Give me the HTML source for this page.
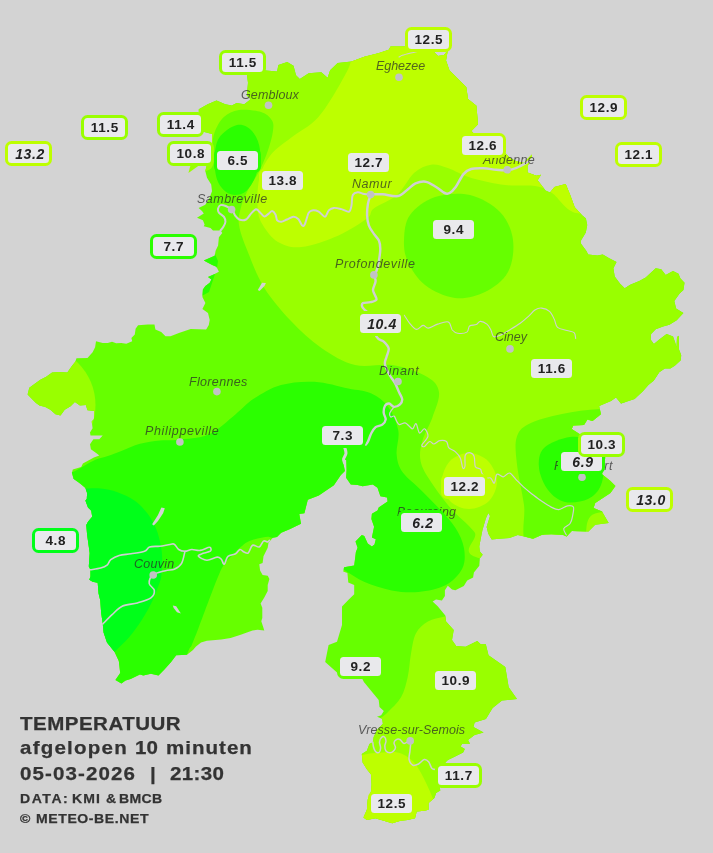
<!DOCTYPE html>
<html><head><meta charset="utf-8"><title>Temperatuur</title>
<style>
html,body{margin:0;padding:0;background:#d3d3d3;}
body{width:713px;height:853px;overflow:hidden;position:relative;font-family:"Liberation Sans",sans-serif;}
svg{position:absolute;left:0;top:0;}
.lb{position:absolute;width:41px;height:18.6px;border:3.2px solid #99ff00;border-radius:6.5px;background:#e9e9ec;color:#222;font-weight:bold;font-size:13.5px;line-height:19.8px;text-align:center;letter-spacing:0.6px;text-indent:0.6px;}
.lb.i{font-style:italic;font-size:14px;text-indent:3px;line-height:20.6px;}
.ct{position:absolute;font-style:italic;font-size:12.5px;color:rgba(40,40,40,0.72);white-space:nowrap;line-height:14px;}
.lb,.ct,.t{will-change:transform;}
.t{position:absolute;color:#333;font-weight:bold;white-space:nowrap;transform-origin:left top;transform:scaleX(1.08);-webkit-text-stroke:0.25px #333;}
</style></head><body>

<svg width="713" height="853" viewBox="0 0 713 853">
<defs><clipPath id="pc"><path d="M206.3 329.2 L208.8 325.0 L209.7 319.9 L208.0 313.1 L202.4 308.9 L205.4 303.0 L202.4 297.1 L202.9 289.5 L205.4 286.1 L209.7 282.8 L211.4 279.4 L208.0 276.9 L214.2 274.3 L218.9 271.8 L216.4 266.7 L212.2 265.0 L203.8 260.5 L214.7 255.8 L215.6 250.7 L218.1 245.6 L218.9 237.2 L222.3 233.0 L220.6 230.4 L213.0 230.4 L210.5 227.9 L203.8 226.2 L204.6 224.5 L202.9 220.3 L197.0 217.8 L203.8 213.6 L202.0 211.0 L198.6 208.0 L205.3 204.8 L209.5 198.0 L212.0 191.3 L211.2 184.5 L207.0 177.8 L205.3 171.0 L207.0 164.3 L212.0 162.6 L212.0 154.6 L212.0 134.0 L200.5 131.0 L198.8 113.0 L198.8 109.3 L207.7 104.3 L216.5 100.5 L225.3 104.3 L231.7 105.5 L236.7 103.0 L244.3 104.3 L250.6 99.2 L246.8 95.4 L248.0 82.8 L246.8 74.0 L263.2 70.2 L277.1 71.5 L278.4 65.1 L287.2 62.1 L293.5 65.7 L296.0 75.2 L299.8 79.0 L308.7 73.2 L321.3 72.2 L327.6 77.8 L330.1 70.2 L337.7 63.1 L351.6 61.4 L364.3 56.8 L378.3 53.3 L388.8 49.8 L390.6 46.5 L405.7 46.4 L432.0 50.0 L438.0 56.0 L444.0 55.0 L447.8 50.3 L446.0 60.4 L449.5 70.5 L459.6 80.6 L466.3 87.3 L468.0 99.0 L476.4 105.8 L478.0 124.3 L471.4 131.0 L480.0 140.0 L505.0 153.0 L510.0 158.0 L516.3 161.2 L524.0 163.0 L528.0 158.5 L532.0 154.5 L531.0 160.0 L527.5 166.0 L527.5 172.4 L536.5 175.8 L541.0 174.7 L537.6 180.3 L545.5 190.4 L550.0 192.6 L554.5 187.0 L565.7 184.1 L570.2 194.9 L574.7 207.2 L582.4 215.5 L585.9 218.4 L587.2 225.0 L585.8 232.6 L580.7 241.0 L580.9 243.6 L586.4 250.9 L588.2 254.6 L597.3 255.5 L602.8 254.6 L609.2 258.2 L616.5 261.9 L613.4 268.3 L614.7 276.5 L620.1 283.8 L624.7 288.3 L630.2 284.7 L639.3 281.0 L645.7 277.4 L655.7 268.3 L661.2 269.2 L665.7 275.0 L673.0 271.0 L678.5 273.7 L680.3 278.3 L684.5 282.8 L683.4 290.1 L679.4 293.8 L674.3 301.1 L676.1 308.4 L683.4 312.9 L676.7 320.2 L669.4 324.8 L663.0 326.6 L655.7 329.3 L651.1 333.9 L650.6 339.4 L653.9 343.9 L659.3 339.4 L666.6 333.9 L673.0 336.6 L675.0 342.0 L676.5 347.0 L677.0 337.0 L678.8 335.7 L679.0 349.4 L681.2 354.9 L680.8 360.3 L674.8 365.8 L670.3 368.5 L664.8 368.5 L659.3 372.2 L653.9 380.4 L648.4 384.9 L642.9 391.3 L634.6 399.0 L621.0 403.5 L616.0 397.5 L611.0 400.9 L599.2 405.9 L600.9 414.3 L592.5 421.0 L587.4 419.4 L584.0 425.0 L573.3 425.5 L571.7 428.9 L581.8 435.6 L605.3 457.5 L602.0 474.3 L610.4 481.0 L615.4 486.0 L610.4 492.9 L595.2 503.0 L593.5 508.0 L602.0 511.4 L608.7 523.0 L595.2 524.8 L588.5 531.6 L571.7 530.9 L566.6 536.6 L563.2 535.0 L551.5 534.3 L545.0 534.5 L541.5 535.0 L533.0 538.8 L526.3 537.1 L517.8 535.0 L509.4 537.9 L499.3 538.8 L491.7 539.6 L488.3 533.7 L486.6 526.9 L490.0 516.0 L488.3 513.1 L485.8 518.5 L482.4 530.3 L480.7 538.8 L479.3 546.4 L479.9 551.4 L482.7 554.8 L479.9 558.2 L479.3 565.8 L473.9 572.5 L473.1 577.6 L467.2 580.6 L463.8 586.0 L455.4 590.2 L452.0 589.4 L447.8 585.7 L444.9 590.2 L444.9 596.1 L441.9 600.4 L436.0 599.5 L432.6 601.5 L437.7 606.3 L445.3 615.6 L446.1 621.5 L453.7 629.9 L452.0 640.0 L456.2 645.9 L465.5 646.8 L477.3 640.9 L480.7 644.2 L485.8 644.2 L488.5 655.2 L505.3 667.0 L508.7 687.2 L517.0 699.0 L502.0 700.6 L492.6 708.0 L485.9 719.0 L474.6 722.5 L473.5 727.0 L483.6 732.6 L474.6 734.9 L468.0 740.0 L470.0 743.7 L462.2 743.7 L460.6 746.5 L464.8 749.1 L463.1 752.4 L454.6 756.7 L447.9 760.0 L445.4 762.6 L439.5 786.2 L440.3 790.4 L436.1 793.0 L434.4 798.0 L428.5 803.1 L428.5 809.8 L424.3 810.7 L416.7 811.5 L415.0 818.3 L407.4 820.0 L400.6 820.8 L392.2 823.3 L383.8 820.8 L375.3 818.3 L366.9 820.0 L363.5 817.4 L366.9 809.8 L367.7 799.7 L371.1 791.3 L371.6 784.5 L371.1 774.4 L366.9 769.3 L362.7 762.6 L361.8 754.1 L366.9 750.8 L369.4 744.0 L372.8 742.3 L373.6 737.3 L377.0 730.0 L382.9 723.8 L382.1 718.7 L377.0 716.7 L381.2 715.3 L383.8 711.1 L379.5 706.9 L378.7 700.1 L372.3 692.2 L363.9 682.0 L360.6 675.4 L340.4 675.4 L325.2 662.0 L328.6 645.0 L337.0 641.7 L342.0 625.0 L342.0 606.4 L348.3 600.1 L354.2 594.2 L354.2 584.9 L348.3 582.4 L347.4 573.1 L343.2 571.4 L344.1 567.2 L354.2 565.5 L355.9 552.0 L357.6 547.8 L355.5 541.4 L361.8 535.1 L364.3 535.9 L367.7 543.5 L371.9 546.4 L374.5 544.4 L375.8 539.3 L371.9 537.6 L374.1 526.7 L371.4 519.1 L371.9 513.7 L377.5 510.6 L378.7 507.6 L387.6 501.4 L387.1 497.5 L380.4 496.3 L377.5 487.8 L372.8 484.5 L362.6 486.2 L357.6 485.0 L350.8 484.5 L346.1 477.7 L346.6 470.1 L346.3 460.0 L342.6 460.0 L344.9 471.0 L340.7 475.2 L333.9 485.3 L318.8 495.4 L307.8 499.7 L304.4 513.2 L299.3 514.0 L301.0 523.8 L289.6 529.3 L281.2 532.7 L277.0 536.9 L272.8 537.7 L268.5 542.8 L267.7 547.8 L263.5 556.3 L262.6 563.0 L259.3 564.2 L260.1 570.6 L262.6 574.9 L267.7 575.7 L269.4 579.1 L267.7 585.0 L267.7 590.9 L264.3 597.6 L260.6 603.5 L262.3 607.8 L262.3 617.9 L261.3 621.3 L263.5 628.0 L264.3 630.5 L257.6 629.7 L252.5 630.5 L240.7 634.8 L230.6 638.1 L221.3 639.5 L206.9 640.7 L201.0 642.4 L196.0 646.6 L193.0 650.0 L187.0 654.7 L176.2 655.2 L171.1 662.0 L164.4 669.6 L158.5 675.5 L150.9 673.8 L143.3 675.5 L139.9 674.6 L130.6 678.9 L125.6 680.5 L121.4 683.4 L115.4 680.0 L120.2 673.0 L118.8 661.1 L114.6 651.9 L107.0 642.6 L103.6 632.4 L102.8 624.0 L101.1 612.2 L100.3 600.4 L98.6 593.6 L97.7 582.7 L92.7 581.8 L89.3 579.8 L90.5 576.6 L90.5 569.8 L88.8 566.5 L89.7 553.0 L88.5 544.5 L87.1 534.4 L86.3 525.1 L88.0 521.7 L92.2 516.7 L91.3 510.8 L88.0 507.4 L85.4 500.6 L86.8 498.9 L87.1 493.0 L85.4 488.0 L80.4 483.8 L73.6 478.7 L71.9 472.8 L72.8 469.4 L81.2 466.9 L82.9 463.5 L93.9 457.6 L99.3 455.5 L96.8 453.6 L90.9 449.3 L90.0 444.3 L93.4 439.2 L99.3 439.2 L102.7 435.5 L90.5 435.5 L90.0 432.5 L92.6 428.2 L91.7 421.5 L93.9 419.0 L94.3 410.9 L87.5 410.2 L85.8 405.1 L79.9 405.5 L74.9 402.1 L70.6 406.3 L64.7 409.7 L60.5 415.6 L55.4 414.2 L50.4 409.7 L45.3 407.1 L39.4 405.5 L36.0 402.9 L31.0 397.9 L27.6 394.5 L29.3 387.7 L32.7 385.2 L40.3 379.8 L46.2 376.8 L52.1 372.5 L58.8 372.0 L67.3 372.5 L71.5 366.6 L75.4 361.6 L76.5 358.2 L87.5 357.9 L92.6 352.3 L95.1 347.2 L96.0 341.3 L102.7 343.0 L107.8 343.0 L112.0 341.7 L116.2 343.3 L121.3 343.0 L126.3 343.8 L132.2 341.3 L131.4 337.9 L134.8 334.6 L135.6 328.7 L138.1 325.3 L147.8 324.5 L154.5 324.5 L155.4 329.6 L161.2 332.1 L165.5 336.3 L170.5 336.3 L178.9 332.9 L190.7 329.1 L205.9 329.6Z"/></clipPath></defs>
<g clip-path="url(#pc)">
<rect x="0" y="0" width="713" height="853" fill="#66ff00"/>
<path d="M150.0 60.0 C152.5 80.0 161.7 100.8 165.0 120.0 C168.3 139.2 163.3 166.4 170.0 175.0 C176.7 183.6 197.7 173.6 205.0 171.5 C212.3 169.4 212.6 166.7 213.8 162.6 C215.1 158.5 212.4 152.1 212.5 147.0 C212.6 141.9 212.7 137.2 214.6 132.2 C216.5 127.2 219.8 120.7 223.9 117.0 C228.0 113.3 232.8 110.8 239.0 110.0 C245.2 109.2 255.5 110.3 261.0 112.0 C266.5 113.7 270.0 117.1 272.0 120.4 C274.0 123.7 273.5 126.9 272.8 132.0 C272.1 137.1 270.1 144.3 267.8 150.8 C265.6 157.3 262.7 164.3 259.3 171.0 C255.9 177.7 250.6 184.8 247.5 191.0 C244.4 197.2 242.2 202.3 240.8 208.0 C239.4 213.7 237.9 217.9 239.0 225.0 C240.1 232.1 243.1 240.1 247.3 250.5 C251.5 260.9 256.7 275.8 264.0 287.5 C271.3 299.2 281.4 310.9 291.0 321.0 C300.6 331.1 310.7 340.7 321.4 348.0 C332.1 355.3 342.9 362.1 355.0 365.0 C367.1 367.9 381.6 363.3 393.7 365.3 C405.8 367.3 419.8 372.5 427.3 377.0 C434.9 381.5 438.1 385.6 439.0 392.3 C439.9 399.1 435.2 409.4 432.4 417.5 C429.6 425.6 424.3 433.7 422.3 441.0 C420.3 448.3 419.2 454.6 420.6 461.3 C422.0 468.1 425.6 473.6 430.7 481.5 C435.8 489.4 443.6 500.0 450.9 508.4 C458.2 516.8 467.9 523.4 474.4 532.0 C480.9 540.6 449.1 555.3 490.0 560.0 C530.9 564.7 681.7 653.3 720.0 560.0 C758.3 466.7 815.0 93.3 720.0 0.0 C625.0 -93.3 245.0 -10.0 150.0 0.0 C55.0 10.0 147.5 40.0 150.0 60.0Z" fill="#99ff00"/>
<circle cx="36" cy="405" r="59.5" fill="#99ff00"/>
<path d="M460.0 612.0 C444.1 612.8 450.1 614.9 444.7 616.5 C439.3 618.1 432.7 618.7 427.9 621.5 C423.1 624.3 418.8 628.0 416.0 633.3 C413.2 638.6 412.4 646.2 411.0 653.5 C409.6 660.8 409.4 669.7 407.7 677.0 C406.0 684.3 404.4 691.4 401.0 697.3 C397.6 703.2 391.8 708.3 387.5 712.4 C383.2 716.5 381.2 717.4 375.0 722.0 C368.8 726.6 355.8 720.3 350.0 740.0 C344.2 759.7 308.3 823.3 340.0 840.0 C371.7 856.7 506.7 878.0 540.0 840.0 C573.3 802.0 553.3 650.0 540.0 612.0 C526.7 574.0 475.9 611.2 460.0 612.0Z" fill="#99ff00"/>
<path d="M600.0 409.0 C587.0 409.8 574.0 411.5 562.0 414.0 C550.0 416.5 535.9 420.2 528.3 424.2 C520.7 428.2 518.4 431.3 516.5 438.0 C514.6 444.7 515.8 453.4 517.0 464.6 C518.2 475.8 522.1 491.6 524.0 505.0 C525.9 518.4 519.0 538.3 528.3 545.0 C537.6 551.7 569.4 550.0 580.0 545.0 C590.6 540.0 582.0 522.5 592.0 515.0 C602.0 507.5 632.0 517.7 640.0 500.0 C648.0 482.3 646.7 424.2 640.0 409.0 C633.3 393.8 613.0 408.2 600.0 409.0Z" fill="#66ff00"/>
<path d="M404.0 240.0 C404.3 232.2 404.8 222.2 410.0 215.0 C415.2 207.8 425.0 200.3 435.0 197.0 C445.0 193.7 459.2 192.5 470.0 195.0 C480.8 197.5 492.8 204.5 500.0 212.0 C507.2 219.5 511.7 230.0 513.0 240.0 C514.3 250.0 512.7 263.3 508.0 272.0 C503.3 280.7 493.8 287.7 485.0 292.0 C476.2 296.3 465.0 299.2 455.0 298.0 C445.0 296.8 432.8 291.0 425.0 285.0 C417.2 279.0 411.5 269.5 408.0 262.0 C404.5 254.5 403.7 247.8 404.0 240.0Z" fill="#66ff00"/>
<path d="M352.0 55.0 C350.3 66.8 347.7 70.2 342.0 80.6 C336.3 91.0 326.5 108.1 318.0 117.6 C309.5 127.1 298.8 131.6 291.0 137.8 C283.2 144.0 276.3 147.9 271.0 154.6 C265.7 161.3 261.6 169.0 259.4 178.0 C257.2 187.0 257.1 200.7 257.7 208.5 C258.3 216.3 259.4 219.4 262.8 225.0 C266.2 230.6 271.6 238.3 278.0 242.0 C284.4 245.7 291.4 248.1 301.5 247.0 C311.6 245.9 327.6 240.1 338.5 235.4 C349.4 230.7 361.1 223.1 367.0 218.6 C372.9 214.1 368.8 212.4 373.8 208.5 C378.8 204.6 390.3 200.9 397.0 195.0 C403.7 189.1 408.3 178.1 414.0 173.0 C419.7 167.9 425.4 165.5 431.0 164.7 C436.6 163.9 441.1 165.8 447.8 168.0 C454.5 170.2 461.9 175.2 471.4 178.0 C480.9 180.8 494.4 183.7 505.0 185.0 C515.6 186.3 527.2 184.7 535.0 186.0 C542.8 187.3 545.0 188.5 552.0 193.0 C559.0 197.5 565.7 211.8 577.0 213.0 C588.3 214.2 612.8 233.8 620.0 200.0 C627.2 166.2 664.7 41.7 620.0 10.0 C575.3 -21.7 396.7 2.5 352.0 10.0 C307.3 17.5 353.7 43.2 352.0 55.0Z" fill="#bdff00"/>
<path d="M442.0 481.0 C442.0 474.3 445.5 465.7 450.0 461.0 C454.5 456.3 462.7 453.0 469.0 453.0 C475.3 453.0 483.3 456.3 488.0 461.0 C492.7 465.7 496.8 474.3 497.0 481.0 C497.2 487.7 493.7 496.3 489.0 501.0 C484.3 505.7 475.5 509.0 469.0 509.0 C462.5 509.0 454.5 505.7 450.0 501.0 C445.5 496.3 442.0 487.7 442.0 481.0Z" fill="#bdff00"/>
<path d="M345.0 757.0 C348.6 742.8 357.3 755.6 361.8 755.0 C366.3 754.4 368.2 753.7 371.9 753.3 C375.6 752.9 379.6 752.5 383.8 752.4 C388.0 752.2 393.7 751.8 397.3 752.4 C400.9 753.0 402.9 754.1 405.7 755.8 C408.5 757.5 411.6 759.8 414.1 762.6 C416.6 765.4 418.8 769.1 420.9 772.7 C423.0 776.4 424.8 780.3 426.8 784.5 C428.8 788.7 430.8 793.4 432.7 798.0 C434.6 802.6 438.4 805.0 438.0 812.0 C437.6 819.0 446.3 835.3 430.0 840.0 C413.7 844.7 354.2 853.8 340.0 840.0 C325.8 826.2 341.4 771.2 345.0 757.0Z" fill="#bdff00"/>
<path d="M60.0 474.0 C62.1 436.0 68.8 473.3 72.8 472.0 C76.8 470.7 79.9 468.1 83.8 466.0 C87.7 463.9 92.0 461.1 96.0 459.5 C100.0 457.9 103.6 457.5 107.8 456.1 C112.0 454.7 115.9 453.1 121.3 451.0 C126.7 448.9 133.6 445.6 140.0 443.8 C146.4 442.1 153.7 441.2 160.0 440.5 C166.3 439.8 169.9 440.7 178.0 439.7 C186.1 438.7 198.9 438.8 208.5 434.6 C218.1 430.4 227.8 420.4 235.4 414.4 C243.0 408.4 246.4 403.5 254.0 398.6 C261.6 393.7 270.9 387.8 281.0 385.0 C291.1 382.2 303.4 381.2 314.6 381.8 C325.8 382.4 338.8 386.6 348.3 388.5 C357.8 390.4 364.8 390.4 371.4 393.5 C378.0 396.6 383.7 400.8 388.2 407.0 C392.7 413.2 396.9 422.7 398.3 430.5 C399.7 438.3 396.0 447.3 396.6 454.0 C397.2 460.7 398.1 465.3 401.7 470.9 C405.3 476.5 412.3 481.5 418.5 487.7 C424.7 493.9 432.5 501.3 438.7 508.0 C444.9 514.7 451.3 521.3 455.5 528.0 C459.7 534.7 462.9 541.5 464.0 548.3 C465.1 555.0 465.4 562.3 462.3 568.5 C459.2 574.7 452.7 581.4 445.4 585.3 C438.1 589.2 427.5 591.1 418.5 592.0 C409.5 592.9 400.6 592.1 391.6 590.4 C382.6 588.7 372.5 585.4 364.6 582.0 C356.7 578.6 350.2 573.7 344.4 570.0 C338.6 566.3 335.7 565.8 330.0 560.0 C324.3 554.2 315.8 538.2 310.0 535.0 C304.2 531.8 300.0 540.0 295.0 541.0 C290.0 542.0 284.3 541.7 280.0 541.0 C275.7 540.3 273.1 537.3 269.4 536.9 C265.7 536.5 261.2 537.8 257.6 538.6 C254.0 539.4 250.3 540.5 247.5 541.9 C244.7 543.3 243.0 545.0 240.7 547.0 C238.4 549.0 236.7 550.8 233.9 553.8 C231.1 556.8 226.6 560.5 223.8 564.7 C221.0 568.9 219.6 573.1 217.1 579.1 C214.6 585.1 211.7 592.9 208.6 601.0 C205.5 609.1 201.3 620.7 198.5 628.0 C195.7 635.3 193.6 640.7 191.8 644.9 C190.0 649.1 191.1 644.1 187.5 653.3 C183.9 662.5 191.2 692.2 170.0 700.0 C148.8 707.8 78.3 737.7 60.0 700.0 C41.7 662.3 57.9 512.0 60.0 474.0Z" fill="#2bff00"/>
<path d="M237.0 125.0 C242.5 123.8 248.2 126.8 252.0 131.0 C255.8 135.2 259.3 142.7 260.0 150.0 C260.7 157.3 258.5 168.0 256.0 175.0 C253.5 182.0 249.3 188.8 245.0 192.0 C240.7 195.2 234.5 195.7 230.0 194.0 C225.5 192.3 220.6 187.7 218.0 182.0 C215.4 176.3 214.4 167.3 214.6 160.0 C214.8 152.7 215.3 143.8 219.0 138.0 C222.7 132.2 231.5 126.2 237.0 125.0Z" fill="#2bff00"/>
<path d="M570.0 437.0 C578.0 436.0 586.5 437.8 592.0 442.0 C597.5 446.2 601.5 454.8 603.0 462.0 C604.5 469.2 603.5 478.8 601.0 485.0 C598.5 491.2 594.0 496.2 588.0 499.0 C582.0 501.8 571.7 503.5 565.0 502.0 C558.3 500.5 552.3 495.7 548.0 490.0 C543.7 484.3 539.7 475.0 539.0 468.0 C538.3 461.0 538.8 453.2 544.0 448.0 C549.2 442.8 562.0 438.0 570.0 437.0Z" fill="#2bff00"/>
<path d="M198.0 252.0 L215.0 254.0 L218.0 261.0 L217.0 268.0 L213.0 280.0 L209.0 292.0 L198.0 298.0Z" fill="#2bff00"/>
<path d="M60.0 489.0 C64.4 458.8 79.5 488.6 86.3 488.5 C93.1 488.4 95.4 487.9 100.6 488.5 C105.8 489.1 111.9 490.2 117.5 492.2 C123.1 494.2 129.3 497.0 134.4 500.6 C139.5 504.2 144.2 509.3 147.9 514.1 C151.6 518.9 154.2 524.2 156.3 529.3 C158.4 534.4 159.6 539.7 160.6 544.5 C161.6 549.3 162.1 552.9 162.2 558.0 C162.3 563.1 161.9 570.6 161.4 574.9 C160.9 579.1 160.8 579.2 159.3 583.5 C157.8 587.8 155.4 594.5 152.6 600.4 C149.8 606.3 146.3 612.7 142.4 618.9 C138.5 625.1 133.5 632.0 128.9 637.5 C124.3 643.0 119.4 646.8 114.6 651.9 C109.8 657.0 109.1 665.0 100.0 668.0 C90.9 671.0 66.7 699.8 60.0 670.0 C53.3 640.2 55.6 519.2 60.0 489.0Z" fill="#00ff19"/>
</g>
<path d="M188.4 173 L192 160 L202 160 L197.5 166.5Z" fill="#99ff00"/>
<path d="M152.1 524.3 L158.0 515.0 L161.4 507.4 L164.8 508.2 L163.1 513.3 L158.0 520.9 L153.8 525.4Z" fill="#d3d3d3"/>
<path d="M172.8 605.4 L176.2 606.3 L180.9 613.5 L177.0 612.2 L173.7 608.0Z" fill="#d3d3d3"/>
<path d="M257.8 289.9 L262.0 282.8 L265.9 283.1 L264.5 286.1 L259.5 290.9Z" fill="#d3d3d3"/>
<path d="M220.6 230.4 C221.0 229.8 222.4 228.5 223.2 227.1 C224.0 225.7 225.3 223.7 225.4 222.0 C225.5 220.3 225.1 218.5 224.0 216.9 C222.9 215.3 219.9 214.1 218.9 212.7 C217.9 211.3 217.8 209.8 218.1 208.5 C218.4 207.2 219.3 205.5 220.6 205.1 C221.9 204.7 223.8 205.2 225.7 206.0 C227.6 206.8 230.5 208.3 232.1 209.9 C233.7 211.5 233.8 213.7 235.0 215.3 C236.2 216.9 237.4 218.8 239.2 219.5 C241.0 220.2 244.0 220.5 246.0 219.5 C248.0 218.5 249.3 215.3 251.0 213.6 C252.7 211.9 254.6 209.5 256.1 209.3 C257.7 209.2 258.9 211.5 260.3 212.7 C261.7 213.9 263.1 216.4 264.5 216.6 C265.9 216.8 267.4 214.5 268.7 213.6 C270.0 212.7 271.0 210.9 272.1 211.0 C273.2 211.1 274.6 212.8 275.5 214.4 C276.4 216.0 276.2 219.1 277.2 220.3 C278.2 221.5 279.8 221.8 281.4 221.7 C283.0 221.6 285.0 220.3 287.0 219.5 C289.0 218.7 291.5 216.8 293.4 216.7 C295.3 216.6 297.0 217.7 298.5 219.2 C300.0 220.7 301.1 224.7 302.2 225.5 C303.2 226.3 303.7 226.4 304.8 224.3 C305.9 222.2 307.4 215.2 308.6 212.9 C309.9 210.6 310.6 210.6 312.3 210.4 C314.0 210.2 316.6 210.6 318.7 211.7 C320.8 212.8 323.3 216.9 325.0 216.7 C326.7 216.5 327.3 211.9 328.8 210.4 C330.3 208.9 331.7 208.1 333.8 207.9 C335.9 207.7 338.9 208.5 341.4 209.1 C343.9 209.7 347.3 212.3 349.0 211.7 C350.7 211.1 350.9 208.1 351.5 205.3 C352.1 202.6 351.6 197.4 352.7 195.2 C353.8 193.0 355.9 192.4 357.8 192.2 C359.7 192.0 361.9 193.6 364.1 194.0 C366.3 194.4 369.9 194.4 371.0 194.5" fill="none" stroke="#cfcfd2" stroke-width="2" stroke-linejoin="round" stroke-linecap="round"/>
<path d="M370.1 194.3 C372.2 194.3 378.1 194.0 382.7 194.3 C387.3 194.6 393.7 196.8 397.9 196.0 C402.1 195.2 405.1 191.3 408.0 189.2 C410.9 187.1 412.6 184.7 415.5 183.4 C418.4 182.2 422.2 181.1 425.6 181.7 C429.0 182.2 432.5 184.8 435.7 186.7 C438.9 188.6 442.3 191.9 444.6 193.0 C446.9 194.1 447.7 194.1 449.6 193.0 C451.5 191.9 453.6 189.8 455.9 186.7 C458.2 183.5 461.0 177.0 463.5 174.1 C466.0 171.2 467.7 170.0 471.1 169.0 C474.5 168.0 479.5 168.2 483.7 168.3 C487.9 168.4 492.5 169.5 496.3 169.8 C500.1 170.1 503.0 170.6 506.4 170.3 C509.8 170.0 513.1 169.1 516.5 167.8 C519.9 166.5 523.6 164.4 526.6 162.7 C529.6 161.0 532.9 158.5 534.2 157.7" fill="none" stroke="#cfcfd2" stroke-width="2.5" stroke-linejoin="round" stroke-linecap="round"/>
<path d="M370.8 194.7 C370.3 196.2 368.6 200.1 368.0 203.5 C367.4 206.9 367.0 211.7 367.1 215.3 C367.2 219.0 367.7 222.3 368.8 225.4 C369.9 228.5 372.2 231.4 373.9 233.9 C375.6 236.4 377.8 238.1 378.9 240.6 C380.0 243.1 380.3 245.7 380.3 249.1 C380.3 252.5 379.5 257.2 378.9 260.9 C378.2 264.5 377.2 268.8 376.4 271.0 C375.6 273.2 374.0 272.7 373.9 274.4 C373.8 276.1 375.8 278.6 375.6 281.1 C375.5 283.6 373.1 287.4 373.0 289.6 C372.9 291.9 374.1 292.9 374.7 294.6 C375.3 296.3 377.1 298.4 376.4 299.7 C375.7 301.0 372.8 301.6 370.5 302.2 C368.2 302.8 364.3 302.4 362.9 303.1 C361.5 303.8 361.8 305.4 362.1 306.5 C362.4 307.6 363.3 308.2 364.6 309.8 C365.9 311.4 368.0 311.6 370.0 316.0 C372.0 320.4 374.1 332.2 376.4 336.5 C378.7 340.8 381.9 339.9 384.0 341.9 C386.1 343.9 388.3 346.1 388.7 348.6 C389.1 351.1 387.1 354.5 386.5 357.0 C385.9 359.5 384.5 361.0 384.9 363.8 C385.3 366.6 387.3 370.8 389.0 374.0 C390.7 377.2 393.3 380.1 395.0 383.2 C396.7 386.3 398.0 389.8 399.2 392.5 C400.4 395.2 402.1 397.3 402.2 399.3 C402.3 401.3 401.4 403.0 400.0 404.3 C398.6 405.6 395.9 407.0 394.1 406.9 C392.3 406.8 390.6 403.6 389.1 403.5 C387.6 403.4 385.8 404.4 384.9 406.0 C384.0 407.6 383.6 410.6 383.7 412.8 C383.8 415.1 385.9 417.5 385.7 419.5 C385.5 421.5 384.0 423.3 382.3 424.6 C380.6 425.9 377.4 425.7 375.6 427.1 C373.8 428.5 372.7 430.6 371.4 433.0 C370.1 435.4 368.9 439.6 368.0 441.5 C367.1 443.4 366.2 444.0 365.8 444.5" fill="none" stroke="#cfcfd2" stroke-width="2.4" stroke-linejoin="round" stroke-linecap="round"/>
<path d="M344.3 446.0 C344.6 447.2 346.1 451.1 346.0 453.3 C345.9 455.5 343.8 457.4 343.6 459.0 C343.4 460.6 344.4 462.3 344.6 463.0" fill="none" stroke="#d3d3d3" stroke-width="3.01" stroke-linejoin="round" stroke-linecap="round"/>
<path d="M394.1 406.9 C393.4 407.9 390.4 411.1 389.9 412.8 C389.3 414.5 390.1 416.4 390.8 417.0 C391.5 417.6 393.1 415.4 394.1 416.1 C395.1 416.8 395.9 419.8 396.7 421.2 C397.5 422.6 397.8 424.3 399.2 424.6 C400.6 424.9 403.4 422.6 405.1 422.9 C406.8 423.2 408.0 425.3 409.3 426.3 C410.6 427.3 411.6 429.2 412.7 428.8 C413.8 428.4 415.0 423.0 416.1 423.7 C417.2 424.4 418.1 432.1 419.5 433.0 C420.9 433.9 423.1 428.2 424.5 428.8 C425.9 429.4 428.3 433.7 427.9 436.4 C427.5 439.1 422.6 443.1 422.0 444.8 C421.4 446.5 423.2 447.1 424.5 446.5 C425.8 445.9 428.1 441.9 429.6 441.5 C431.2 441.1 432.1 444.1 433.8 444.0 C435.5 443.9 437.6 441.0 439.7 440.6 C441.8 440.2 445.0 440.3 446.5 441.5 C448.0 442.7 447.4 446.1 448.9 447.8 C450.3 449.5 453.3 449.9 455.2 451.6 C457.1 453.3 459.0 455.2 460.3 457.9 C461.6 460.6 462.0 466.6 462.8 468.0 C463.6 469.4 464.6 468.1 465.0 466.0 C465.4 463.9 464.4 457.5 465.3 455.3 C466.2 453.1 468.9 452.6 470.4 452.8 C471.9 453.0 473.4 454.3 474.2 456.6 C475.0 458.9 474.3 464.6 475.4 466.7 C476.4 468.8 479.4 468.1 480.5 469.2 C481.6 470.2 480.9 471.5 481.8 473.0 C482.7 474.5 484.5 477.2 486.0 478.0 C487.5 478.8 489.2 477.1 490.6 478.0 C492.0 478.9 493.3 483.7 494.4 483.1 C495.4 482.5 495.4 475.4 496.9 474.3 C498.4 473.2 501.1 477.0 503.2 476.8 C505.3 476.6 507.4 472.6 509.5 473.0 C511.6 473.4 513.5 477.0 515.8 479.3 C518.1 481.6 520.9 484.6 523.4 486.9 C525.9 489.2 528.0 490.9 531.0 493.2 C534.0 495.5 537.7 498.5 541.1 500.8 C544.5 503.1 548.2 505.6 551.2 507.1 C554.2 508.6 556.1 509.8 558.8 509.6 C561.5 509.4 565.2 506.2 567.6 505.8 C570.0 505.4 572.6 505.4 573.4 507.1 C574.2 508.8 573.1 513.2 572.6 515.9 C572.1 518.6 571.6 521.4 570.1 523.5 C568.6 525.6 564.4 526.7 563.8 528.6 C563.2 530.5 565.9 533.9 566.3 534.9" fill="none" stroke="#cfcfd2" stroke-width="1.2" stroke-linejoin="round" stroke-linecap="round"/>
<path d="M404.3 315.3 C405.2 316.6 407.7 321.0 409.7 323.3 C411.7 325.6 414.1 329.0 416.3 329.4 C418.5 329.8 421.0 325.6 423.0 325.4 C425.0 325.2 425.9 328.3 428.3 328.1 C430.7 327.9 434.3 325.1 437.6 324.1 C440.9 323.1 445.9 321.0 448.3 322.0 C450.8 323.0 450.8 328.1 452.3 330.0 C453.9 331.9 455.2 332.8 457.6 333.2 C460.0 333.6 464.9 333.3 466.9 332.1 C468.9 330.9 468.0 327.2 469.6 326.0 C471.2 324.8 474.5 325.4 476.3 324.6 C478.1 323.8 478.5 321.5 480.3 321.4 C482.1 321.3 485.1 322.7 486.9 324.1 C488.7 325.5 489.8 327.9 490.9 330.0 C492.0 332.1 492.1 335.7 493.6 336.6 C495.2 337.5 497.5 336.4 500.2 335.3 C502.9 334.2 506.3 332.0 509.6 330.0 C512.9 328.0 517.1 325.5 520.2 323.3 C523.3 321.1 525.8 318.8 528.2 316.6 C530.7 314.4 532.7 311.4 534.9 310.0 C537.1 308.6 539.2 307.9 541.6 308.1 C544.0 308.3 547.4 309.4 549.5 311.3 C551.6 313.2 553.0 316.6 554.3 319.3 C555.6 322.0 555.4 325.4 557.5 327.3 C559.6 329.2 564.1 329.6 566.9 330.5 C569.7 331.4 572.6 331.3 574.1 332.6 C575.6 333.9 575.4 337.5 575.7 338.5" fill="none" stroke="#cfcfd2" stroke-width="1.1" stroke-linejoin="round" stroke-linecap="round"/>
<path d="M90.5 569.8 C92.2 569.5 97.8 568.9 100.6 568.1 C103.4 567.3 105.7 566.2 107.4 564.8 C109.1 563.4 108.8 561.2 110.8 559.7 C112.8 558.2 115.8 556.5 119.2 555.5 C122.6 554.5 126.8 554.5 131.0 553.8 C135.2 553.1 141.4 552.4 144.5 551.3 C147.6 550.2 147.1 547.9 149.6 547.0 C152.1 546.1 156.3 546.6 159.7 546.2 C163.1 545.8 167.6 544.8 170.0 544.5 C172.4 544.2 172.9 543.4 174.3 544.2 C175.8 545.0 176.9 548.3 178.7 549.5 C180.5 550.7 182.8 551.2 185.0 551.2 C187.2 551.2 189.3 549.6 191.8 549.5 C194.3 549.4 197.2 550.8 200.2 550.4 C203.1 550.0 207.8 547.2 209.5 547.3 C211.2 547.4 211.6 550.1 210.3 551.2 C209.0 552.3 203.9 552.9 201.9 553.8 C199.9 554.6 197.7 555.2 198.5 556.3 C199.3 557.4 203.8 560.1 206.9 560.2 C210.0 560.3 214.7 557.3 217.1 557.1 C219.5 556.9 220.1 558.0 221.3 559.2 C222.5 560.4 223.1 564.7 224.2 564.2 C225.3 563.7 226.1 558.0 228.0 556.3 C229.9 554.6 233.6 554.9 235.6 553.8 C237.6 552.7 238.5 549.8 239.9 549.5 C241.3 549.2 242.7 551.5 244.1 552.1 C245.5 552.7 246.9 554.0 248.3 552.9 C249.7 551.8 250.7 546.3 252.5 545.3 C254.3 544.3 257.5 547.7 259.3 547.0 C261.1 546.3 262.1 542.0 263.5 541.1 C264.9 540.2 266.7 542.0 267.7 541.9 C268.7 541.8 269.1 540.6 269.4 540.3" fill="none" stroke="#cfcfd2" stroke-width="1.6" stroke-linejoin="round" stroke-linecap="round"/>
<path d="M185.0 551.2 C184.4 553.2 183.4 560.3 181.6 563.3 C179.8 566.3 177.0 568.0 174.3 569.2 C171.6 570.4 169.0 569.7 165.4 570.7 C161.8 571.7 155.6 572.9 152.9 575.0 C150.2 577.1 149.0 581.0 149.2 583.5 C149.4 586.0 154.0 587.9 154.3 590.3 C154.6 592.7 153.7 595.7 150.9 597.8 C148.1 599.9 142.2 601.5 137.4 602.9 C132.6 604.3 126.4 604.3 122.2 606.3 C118.0 608.3 115.3 611.8 112.1 614.7 C108.9 617.7 104.3 622.5 102.8 624.0" fill="none" stroke="#cfcfd2" stroke-width="1.6" stroke-linejoin="round" stroke-linecap="round"/>
<path d="M372.8 742.3 C372.9 743.1 373.1 745.5 373.5 747.0 C373.9 748.5 374.6 750.6 375.5 751.5 C376.4 752.4 378.1 753.1 379.0 752.5 C379.9 751.9 380.5 749.8 380.6 748.0 C380.7 746.2 379.4 743.8 379.5 742.0 C379.6 740.2 380.7 738.3 381.5 737.5 C382.3 736.7 383.8 736.4 384.5 737.0 C385.2 737.6 385.9 739.5 386.0 741.0 C386.1 742.5 384.8 744.3 384.8 746.0 C384.8 747.7 385.1 749.9 386.0 751.0 C386.9 752.1 388.8 752.8 390.0 752.8 C391.2 752.8 392.6 751.9 393.5 751.0 C394.4 750.1 395.4 748.8 395.5 747.5 C395.6 746.2 393.9 744.3 394.0 743.0 C394.1 741.7 395.0 740.4 396.0 739.8 C397.0 739.2 398.7 738.9 400.0 739.5 C401.3 740.1 402.3 743.2 404.0 743.5 C405.7 743.8 409.2 740.0 410.2 741.2 C411.2 742.4 410.2 747.5 410.0 750.6 C409.8 753.7 408.6 757.2 409.1 759.6 C409.6 762.0 411.3 764.5 412.9 765.2 C414.5 765.9 416.6 764.9 418.5 764.0 C420.4 763.1 422.5 760.0 424.2 759.6 C425.9 759.2 427.3 760.3 428.6 761.8 C429.9 763.3 430.7 767.2 432.0 768.5 C433.3 769.8 435.8 769.5 436.5 769.7" fill="none" stroke="#cfcfd2" stroke-width="1.5" stroke-linejoin="round" stroke-linecap="round"/>
<path d="M399.0 57.0 C399.6 56.7 400.4 56.0 402.4 55.3 C404.4 54.6 408.0 53.7 410.8 53.0 C413.6 52.3 416.7 51.7 419.2 51.0 C421.7 50.3 424.9 49.3 426.0 49.0" fill="none" stroke="#cfcfd2" stroke-width="1.1" stroke-linejoin="round" stroke-linecap="round"/>
<circle cx="268.5" cy="105.2" r="3.8" fill="#c2c2c4"/>
<circle cx="399.0" cy="77.2" r="3.8" fill="#c2c2c4"/>
<circle cx="507.2" cy="169.8" r="3.8" fill="#c2c2c4"/>
<circle cx="370.6" cy="194.6" r="3.8" fill="#c2c2c4"/>
<circle cx="231.6" cy="209.6" r="3.8" fill="#c2c2c4"/>
<circle cx="373.9" cy="274.9" r="3.8" fill="#c2c2c4"/>
<circle cx="510.0" cy="348.9" r="3.8" fill="#c2c2c4"/>
<circle cx="398.0" cy="381.5" r="3.8" fill="#c2c2c4"/>
<circle cx="216.9" cy="391.6" r="3.8" fill="#c2c2c4"/>
<circle cx="179.9" cy="442.0" r="3.8" fill="#c2c2c4"/>
<circle cx="582.0" cy="477.2" r="3.8" fill="#c2c2c4"/>
<circle cx="153.2" cy="575.0" r="3.8" fill="#c2c2c4"/>
<circle cx="410.2" cy="740.9" r="3.8" fill="#c2c2c4"/>
</svg>
<div class="ct" style="left:240.8px;top:87.7px;letter-spacing:0.12px">Gembloux</div>
<div class="ct" style="left:375.6px;top:59.2px;letter-spacing:-0.04px">Eghezee</div>
<div class="ct" style="left:482.5px;top:152.7px;letter-spacing:0.27px">Andenne</div>
<div class="ct" style="left:352.4px;top:177.0px;letter-spacing:0.55px">Namur</div>
<div class="ct" style="left:197.3px;top:192.2px;letter-spacing:0.49px">Sambreville</div>
<div class="ct" style="left:334.5px;top:257.2px;letter-spacing:0.64px">Profondeville</div>
<div class="ct" style="left:495.0px;top:330.3px;letter-spacing:0.01px">Ciney</div>
<div class="ct" style="left:378.7px;top:364.1px;letter-spacing:0.71px">Dinant</div>
<div class="ct" style="left:188.5px;top:374.5px;letter-spacing:0.33px">Florennes</div>
<div class="ct" style="left:144.7px;top:424.0px;letter-spacing:0.64px">Philippeville</div>
<div class="ct" style="left:554.0px;top:459.0px;letter-spacing:0.54px">Rochefort</div>
<div class="ct" style="left:397.1px;top:505.3px;letter-spacing:0.26px">Beauraing</div>
<div class="ct" style="left:133.8px;top:557.0px;letter-spacing:0.28px">Couvin</div>
<div class="ct" style="left:357.5px;top:722.9px;letter-spacing:0.08px">Vresse-sur-Semois</div>
<div class="lb" style="left:404.9px;top:26.5px;border-color:#bdff00">12.5</div>
<div class="lb" style="left:218.7px;top:50.3px;border-color:#99ff00">11.5</div>
<div class="lb" style="left:80.9px;top:114.9px;border-color:#99ff00">11.5</div>
<div class="lb" style="left:156.9px;top:112.1px;border-color:#99ff00">11.4</div>
<div class="lb" style="left:167.3px;top:140.7px;border-color:#99ff00">10.8</div>
<div class="lb" style="left:213.7px;top:148.3px;border-color:#2bff00">6.5</div>
<div class="lb i" style="left:4.7px;top:140.7px;border-color:#bdff00">13.2</div>
<div class="lb" style="left:259.0px;top:168.3px;border-color:#bdff00">13.8</div>
<div class="lb" style="left:344.7px;top:149.9px;border-color:#bdff00">12.7</div>
<div class="lb" style="left:458.7px;top:132.9px;border-color:#bdff00">12.6</div>
<div class="lb" style="left:579.9px;top:94.9px;border-color:#bdff00">12.9</div>
<div class="lb" style="left:614.7px;top:141.9px;border-color:#bdff00">12.1</div>
<div class="lb" style="left:429.7px;top:216.9px;border-color:#66ff00">9.4</div>
<div class="lb" style="left:150.3px;top:233.9px;border-color:#2bff00">7.7</div>
<div class="lb i" style="left:357.2px;top:310.6px;border-color:#99ff00">10.4</div>
<div class="lb" style="left:527.5px;top:355.9px;border-color:#99ff00">11.6</div>
<div class="lb" style="left:319.2px;top:423.1px;border-color:#2bff00">7.3</div>
<div class="lb i" style="left:558.2px;top:449.1px;border-color:#2bff00">6.9</div>
<div class="lb" style="left:577.9px;top:431.5px;border-color:#99ff00">10.3</div>
<div class="lb" style="left:441.3px;top:473.8px;border-color:#bdff00">12.2</div>
<div class="lb i" style="left:626.1px;top:486.9px;border-color:#bdff00">13.0</div>
<div class="lb i" style="left:397.8px;top:509.8px;border-color:#2bff00">6.2</div>
<div class="lb" style="left:31.7px;top:528.0px;border-color:#00ff19">4.8</div>
<div class="lb" style="left:337.0px;top:654.1px;border-color:#66ff00">9.2</div>
<div class="lb" style="left:432.2px;top:667.5px;border-color:#99ff00">10.9</div>
<div class="lb" style="left:435.4px;top:762.9px;border-color:#99ff00">11.7</div>
<div class="lb" style="left:367.5px;top:791.4px;border-color:#bdff00">12.5</div>
<div class="t" style="left:20.1px;top:714.1px;font-size:19px;line-height:19px;letter-spacing:0.444px">TEMPERATUUR</div>
<div class="t" style="left:20.0px;top:738.4px;font-size:19px;line-height:19px;letter-spacing:1.129px">afgelopen</div>
<div class="t" style="left:135.1px;top:738.4px;font-size:19px;line-height:19px;letter-spacing:0.022px">10</div>
<div class="t" style="left:165.8px;top:738.4px;font-size:19px;line-height:19px;letter-spacing:0.933px">minuten</div>
<div class="t" style="left:20.0px;top:763.5px;font-size:19px;line-height:19px;letter-spacing:1.031px">05-03-2026</div>
<div class="t" style="left:150.1px;top:763.5px;font-size:19px;line-height:19px;letter-spacing:0.0px">|</div>
<div class="t" style="left:170.0px;top:763.5px;font-size:19px;line-height:19px;letter-spacing:0.317px">21:30</div>
<div class="t" style="left:19.6px;top:792.3px;font-size:13px;line-height:13px;letter-spacing:1.422px">DATA:</div>
<div class="t" style="left:71.6px;top:792.3px;font-size:13px;line-height:13px;letter-spacing:1.026px">KMI</div>
<div class="t" style="left:105.5px;top:792.3px;font-size:13px;line-height:13px;letter-spacing:0.0px">&amp;</div>
<div class="t" style="left:119.1px;top:792.3px;font-size:13px;line-height:13px;letter-spacing:0.304px">BMCB</div>
<div class="t" style="left:20.4px;top:812.3px;font-size:13px;line-height:13px;letter-spacing:0.0px">&copy;</div>
<div class="t" style="left:35.7px;top:812.3px;font-size:13px;line-height:13px;letter-spacing:0.541px">METEO-BE.NET</div>
</body></html>
